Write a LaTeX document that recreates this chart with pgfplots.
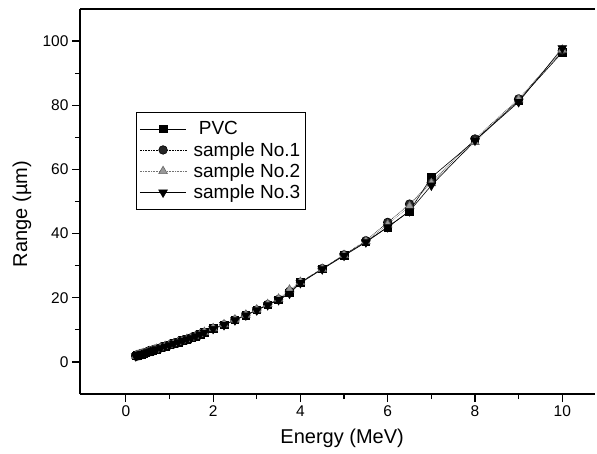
\documentclass[border=0pt]{standalone}
\usepackage{fontspec}
\setmainfont{Liberation Sans}
\usepackage{pgfplots}
\usepackage{pgfplotstable}
\pgfplotsset{compat=1.18}

% E (MeV)  PVC  No.1  No.2  No.3  (range in um)
\pgfplotstableread{
E     pvc   sa    sb    sc
0.225 1.85  1.85  1.90  1.80
0.25  2.00  2.00  2.00  1.95
0.275 2.10  2.10  2.10  2.05
0.30  2.20  2.20  2.25  2.15
0.325 2.30  2.30  2.35  2.25
0.35  2.45  2.45  2.45  2.40
0.375 2.55  2.55  2.55  2.50
0.40  2.65  2.65  2.70  2.60
0.45  2.90  2.90  2.90  2.85
0.50  3.10  3.10  3.15  3.05
0.55  3.35  3.35  3.35  3.30
0.60  3.55  3.55  3.60  3.50
0.65  3.80  3.80  3.80  3.75
0.70  4.00  4.00  4.05  3.95
0.80  4.45  4.45  4.50  4.40
0.90  4.90  4.90  4.95  4.85
1.00  5.30  5.30  5.35  5.25
1.10  5.75  5.75  5.80  5.70
1.20  6.20  6.20  6.25  6.15
1.30  6.65  6.65  6.70  6.60
1.40  7.10  7.10  7.15  7.05
1.50  7.55  7.55  7.60  7.50
1.60  8.05  8.05  8.10  8.00
1.70  8.60  8.60  8.65  8.55
1.80  9.20  9.20  9.30  9.15
2.00  10.4  10.4  10.5  10.3
2.25  11.6  11.6  11.7  11.5
2.50  13.1  13.1  13.2  13.0
2.75  14.6  14.6  14.7  14.5
3.00  16.2  16.2  16.3  16.1
3.25  17.8  17.9  18.0  17.7
3.50  19.4  19.5  19.7  19.3
3.75  21.5  22.0  22.5  21.3
4.00  24.8  24.8  24.9  24.6
4.50  29.0  29.1  29.0  28.9
5.00  33.3  33.4  33.3  33.1
5.50  37.5  37.8  37.6  37.3
6.00  42.0  43.5  42.8  42.0
6.50  47.0  49.2  48.5  47.0
7.00  57.5  56.0  55.7  55.0
8.00  69.0  69.5  68.5  69.0
9.00  81.5  82.0  81.8  81.0
10.00 96.5  97.0  97.3  97.8
}\rangedata

\begin{document}
\begin{tikzpicture}
\begin{axis}[
    name=main,
    scale only axis,
    width=515bp, height=385bp,
    xmin=-1.05, xmax=10.75,
    ymin=-10, ymax=110,
    axis x line*=box, axis y line*=left,
    axis line style={line width=1.4bp},
    xtick={0,2,...,10}, ytick={0,20,...,100},
    minor x tick num=1, minor y tick num=1,
    xtick pos=bottom, ytick pos=left,
    tick align=outside,
    major tick length=8bp, minor tick length=5bp,
    every tick/.style={black, line width=1.2bp},
    /pgf/number format/assume math mode=true,
    ticklabel style={font=\fontsize{15.5bp}{18bp}\selectfont},
    xlabel={Energy (MeV)},
    ylabel={Range (\textmu m)},
    every axis x label/.style={at={(axis description cs:0.509,-0.114)}, anchor=center,
        font=\fontsize{20bp}{24bp}\selectfont},
    every axis y label/.style={at={(axis description cs:-0.1126,0.4675)}, rotate=90, anchor=center,
        font=\fontsize{20bp}{24bp}\selectfont},
    legend cell align=left,
    legend style={at={(axis description cs:0.109,0.732)}, anchor=north west,
        draw=black, line width=0.8bp, font=\fontsize{19bp}{22bp}\selectfont,
        row sep=2bp, inner xsep=3bp, inner ysep=7bp,
        /tikz/every odd column/.append style={column sep=5bp}},
    legend image code/.code={%
        \draw[mark repeat=2,mark phase=2] plot coordinates {(0cm,0cm) (0.82cm,0cm) (1.64cm,0cm)};},
]
\addplot[black, line width=0.6bp, mark=square*, mark size=3.8bp, mark options={solid}]
    table[x=E, y=pvc] {\rangedata};
\addplot[black, densely dotted, line width=0.6bp, mark=*, mark size=4.3bp, mark options={solid, fill=black!85}]
    table[x=E, y=sa] {\rangedata};
\addplot[black!55, densely dotted, line width=0.6bp, mark=triangle*, mark size=5bp, mark options={solid, fill=black!40, draw=black!60}]
    table[x=E, y=sb] {\rangedata};
\addplot[black, line width=0.6bp, mark=triangle*, mark size=5bp, mark options={solid, rotate=180}]
    table[x=E, y=sc] {\rangedata};
\legend{\ PVC, sample No.1, sample No.2, sample No.3}
\end{axis}
\pgfresetboundingbox
\path[use as bounding box] ([xshift=-80bp,yshift=-60bp]main.south west) rectangle ([xshift=2bp,yshift=9bp]main.north east);
\end{tikzpicture}
\end{document}
